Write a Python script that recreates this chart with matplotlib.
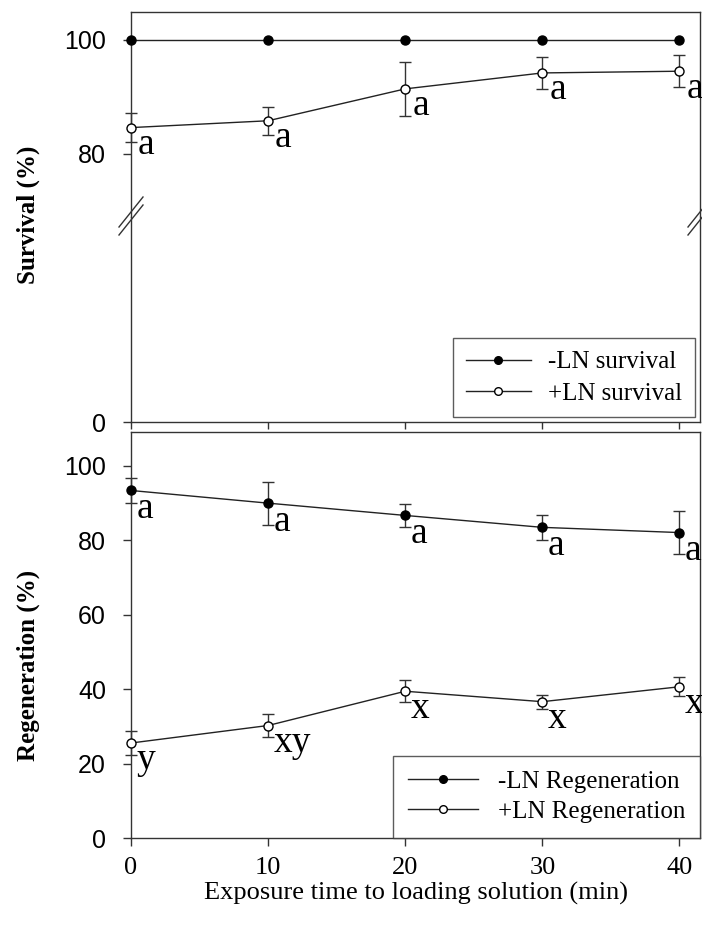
import matplotlib
matplotlib.use("Agg")
import matplotlib.pyplot as plt
from matplotlib.lines import Line2D

# ======================
# DATA
# ======================
time_min = [0, 10, 20, 30, 40]

surv_minus = [100, 100, 100, 100, 100]
surv_plus = [84.6, 85.8, 91.4, 94.2, 94.5]
surv_plus_err = [2.6, 2.5, 4.8, 2.8, 2.8]
surv_plus_letters = ["a", "a", "a", "a", "a"]

regen_minus = [93.3, 89.9, 86.6, 83.4, 82.0]
regen_minus_err = [3.4, 5.8, 3.2, 3.3, 5.8]
regen_minus_letters = ["a", "a", "a", "a", "a"]

regen_plus = [25.5, 30.2, 39.4, 36.6, 40.6]
regen_plus_err = [3.2, 3.0, 3.0, 1.9, 2.6]
regen_plus_letters = ["y", "xy", "x", "x", "x"]

SERIF = "Liberation Serif"
SANS = "Liberation Sans"
W, H = 702, 925


def fx(px):
    return px / W


def fy(py):
    return 1 - py / H


fig = plt.figure(figsize=(7.02, 9.25), dpi=100)

left, right = 131, 700
ax_hi = fig.add_axes([fx(left), fy(217), fx(right - left), fy(12) - fy(217)])
ax_lo = fig.add_axes([fx(left), fy(422), fx(right - left), fy(217) - fy(422)])
ax_b = fig.add_axes([fx(left), fy(838), fx(right - left), fy(432) - fy(838)])

for ax in (ax_hi, ax_lo, ax_b):
    ax.set_xlim(0, 41.5)
    for s in ax.spines.values():
        s.set_linewidth(1.0)
        s.set_color("#333333")
    ax.tick_params(direction="out", length=6, width=1.0, colors="#333333",
                   labelcolor="black")
    ax.tick_params(axis="y", pad=12)


def series(ax, y, err, filled, label):
    fc = "black" if filled else "white"
    if err is not None:
        ax.errorbar(time_min, y, yerr=err, fmt="none", ecolor="#333333",
                    elinewidth=1.0, capsize=4, capthick=1.0, zorder=2,
                    clip_on=False)
    ax.plot(time_min, y, "-", color="#222222", lw=1.0, marker="o", ms=6.5,
            mfc=fc, mec="black", mew=1.0, label=label, zorder=3,
            clip_on=False)


def letters(ax, y, labs, dx=5, dy=-19):
    for x, yy, t in zip(time_min, y, labs):
        ax.annotate(t, (x, yy), xytext=(dx, dy), textcoords="offset points",
                    ha="left", va="baseline", family=SERIF, fontsize=27)


def legend_handles():
    return [Line2D([], [], color="#222222", lw=1.0, marker="o", ms=5.5,
                   mfc=c, mec="black") for c in ("black", "white")]


# ----- top panel (survival, broken axis) -----
series(ax_hi, surv_minus, None, True, "-LN survival")
series(ax_hi, surv_plus, surv_plus_err, False, "+LN survival")
letters(ax_hi, surv_plus, surv_plus_letters, dx=5, dy=-19)
ax_hi.set_ylim(68.9, 104.9)
ax_hi.set_yticks([80, 100])
ax_hi.spines["bottom"].set_visible(False)
ax_hi.tick_params(axis="x", bottom=False, labelbottom=False)

ax_lo.set_ylim(0, 36)
ax_lo.set_yticks([0])
ax_lo.set_xticks(time_min)
ax_lo.spines["top"].set_visible(False)
ax_lo.tick_params(axis="x", labelbottom=False, length=5)
leg = ax_lo.legend(legend_handles(), ["-LN survival", "+LN survival"],
                   loc="lower right", borderaxespad=0.2,
                   prop={"family": SERIF, "size": 18},
                   frameon=True, fancybox=False, edgecolor="#333333",
                   handlelength=2.6, handletextpad=0.7, borderpad=0.5,
                   labelspacing=0.35)
leg.get_frame().set_linewidth(1.0)

for ax in (ax_hi, ax_lo):
    for lab in ax.get_yticklabels():
        lab.set_family(SANS)
        lab.set_fontsize(18)

# break marks
for xb in (left, right):
    for off in (0, 8):
        fig.add_artist(Line2D([fx(xb - 12), fx(xb + 12)],
                              [fy(231 + off - 4), fy(201 + off - 4)],
                              color="#333333", lw=1.0))

# ----- bottom panel (regeneration) -----
series(ax_b, regen_minus, regen_minus_err, True, "-LN Regeneration")
series(ax_b, regen_plus, regen_plus_err, False, "+LN Regeneration")
letters(ax_b, regen_minus, regen_minus_letters, dx=4, dy=-20)
letters(ax_b, regen_plus, regen_plus_letters, dx=4, dy=-19)
ax_b.set_ylim(0, 109)
ax_b.set_yticks([0, 20, 40, 60, 80, 100])
ax_b.set_xticks(time_min)
for lab in ax_b.get_yticklabels():
    lab.set_family(SANS)
    lab.set_fontsize(18)
for lab in ax_b.get_xticklabels():
    lab.set_family(SERIF)
    lab.set_fontsize(19)
ax_b.tick_params(axis="x", pad=8)
leg2 = ax_b.legend(legend_handles(), ["-LN Regeneration", "+LN Regeneration"],
                   loc="lower right", borderaxespad=0.0,
                   prop={"family": SERIF, "size": 18}, frameon=True,
                   fancybox=False, edgecolor="#333333", handlelength=2.8,
                   handletextpad=0.8, borderpad=0.6, labelspacing=0.3)
leg2.get_frame().set_linewidth(1.0)
ax_b.set_xlabel("Exposure time to loading solution (min)", family=SERIF,
                fontsize=19, labelpad=2)

fig.text(fx(28), fy(215), "Survival (%)", rotation=90, ha="center",
         va="center", family=SERIF, fontsize=18, fontweight="bold")
fig.text(fx(28), fy(665), "Regeneration (%)", rotation=90, ha="center",
         va="center", family=SERIF, fontsize=18, fontweight="bold")

fig.savefig("out.png", dpi=100)
